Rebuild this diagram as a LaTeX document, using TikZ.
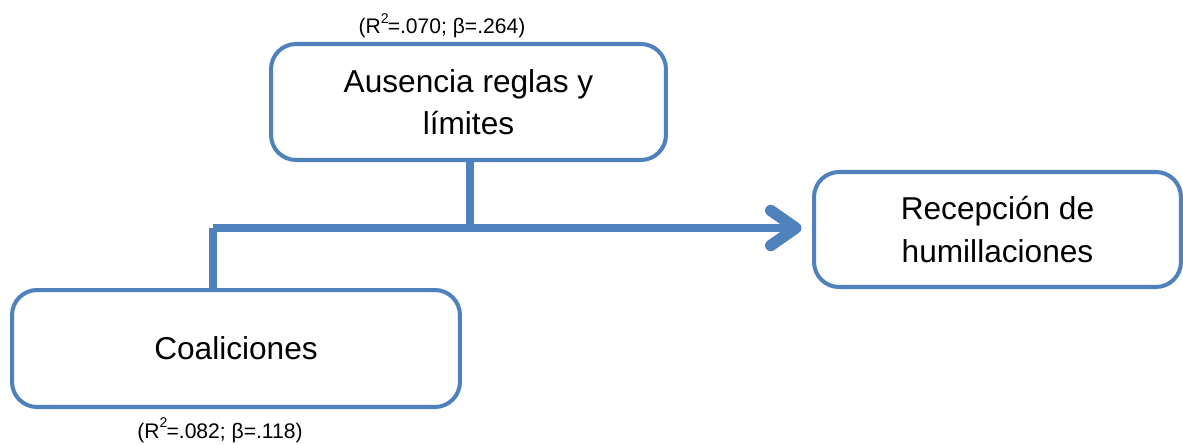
\documentclass[tikz,border=0pt]{standalone}
\usepackage{fontspec}
\setmainfont{Liberation Sans}
\usetikzlibrary{arrows.meta}
\definecolor{azul}{HTML}{4F81BD}
\newcommand{\rdos}{R\raisebox{6pt}{\fontsize{8}{8}\selectfont 2}\kern-0.5pt}

\begin{document}
\begin{tikzpicture}[
		x=0.02cm, y=-0.02cm,
		caja/.style={rectangle, draw=azul, line width=2.3pt, rounded corners=0.5cm,
			align=center, font=\fontsize{18}{24}\selectfont},
		flecha/.style={draw=azul, line width=4pt},
		nota/.style={font=\fontsize{12}{14}\selectfont, inner sep=0pt}
	]
  \useasboundingbox (0,0) rectangle (1183,444);
  \node (ausencia) [caja, minimum width=7.9cm, minimum height=2.32cm] at (468.5,102) {Ausencia reglas y\\límites};
  \node (recepcion) [caja, minimum width=7.34cm, minimum height=2.3cm] at (997.5,229.5) {Recepción de\\humillaciones};
  \node (coaliciones) [caja, minimum width=8.96cm, minimum height=2.34cm] at (236,348.5) {Coaliciones};
  \node (r_aus) [nota] at (442,26) {(\rdos=.070; β=.264)};
  \node (r_coa) [nota] at (220,430) {(\rdos=.082; β=.118)};
  \coordinate (codo) at (213,228);
  \coordinate (cruce) at (470,228);
  \draw [flecha] (ausencia.south -| cruce) -- (cruce);
  \draw [flecha] (coaliciones.north -| codo) -- (codo);
  \draw [flecha, -{Straight Barb[length=0.5cm, width=0.7cm, line width=2.5pt 1, round]}, shorten >=6pt] (codo) -- (recepcion.west |- codo);
\end{tikzpicture}
\end{document}
